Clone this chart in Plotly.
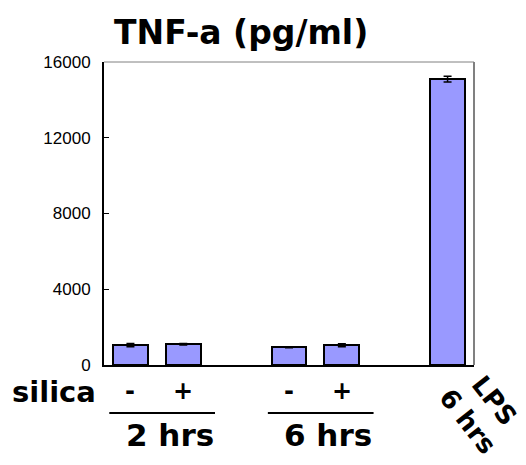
import plotly.graph_objects as go

# TNF-a secretion, mean with error
conditions = ["2 hrs -", "2 hrs +", "6 hrs -", "6 hrs +", "LPS 6 hrs"]
slot = [0, 1, 3, 4, 6]          # bar slots on the x axis (gaps at 2 and 5)
tnf_pg_ml = [1050, 1100, 940, 1040, 15100]
tnf_err = [90, 40, 30, 80, 150]
silica_marks = ["-", "+", "-", "+"]
group_labels = ["2 hrs", "6 hrs"]
y_ticks = [0, 4000, 8000, 12000, 16000]

W, H = 526, 465
M_L, M_R, M_T, M_B = 104, 52, 62, 100
PLOT_H = H - M_T - M_B

HAND = "DejaVu Sans"
fig = go.Figure()
fig.add_trace(go.Bar(
    x=slot, y=tnf_pg_ml, width=0.66,
    marker=dict(color="#9999FF", line=dict(color="black", width=2)),
    error_y=dict(type="data", array=tnf_err, visible=True,
                 color="black", thickness=1.5, width=4),
    hovertext=conditions,
))

fig.update_layout(
    width=W, height=H,
    margin=dict(l=M_L, r=M_R, t=M_T, b=M_B, pad=0),
    paper_bgcolor="white", plot_bgcolor="white",
    showlegend=False,
    bargap=0,
    xaxis=dict(range=[-0.5, 6.5], showticklabels=False, ticks="",
               showgrid=False, zeroline=False,
               showline=True, linecolor="black", linewidth=2),
    yaxis=dict(range=[0, 16000], tickvals=y_ticks,
               ticktext=[str(v) for v in y_ticks],
               ticks="inside", ticklen=5, tickcolor="black", tickwidth=1,
               showgrid=False, zeroline=False,
               showline=True, linecolor="black", linewidth=2,
               ticklabelstandoff=8,
               tickfont=dict(family="Liberation Sans", size=17, color="black")),
)

# top and right frame edges in gray
fig.add_shape(type="line", xref="paper", yref="paper", x0=0, x1=1, y0=1, y1=1,
              line=dict(color="#808080", width=1))
fig.add_shape(type="line", xref="paper", yref="paper", x0=1, x1=1, y0=0, y1=1,
              line=dict(color="#808080", width=2))

# title
fig.add_annotation(text="<b>TNF-a (pg/ml)</b>", xref="paper", yref="paper",
                   x=0.37, y=1, yshift=30, xanchor="center", yanchor="middle",
                   showarrow=False, font=dict(family=HAND, size=33, color="black"))

# silica row
fig.add_annotation(text="<b>silica</b>", xref="paper", yref="paper",
                   x=-0.135, y=0, yshift=-27, xanchor="center", yanchor="middle",
                   showarrow=False, font=dict(family=HAND, size=29, color="black"))
for s, m in zip(slot[:4], silica_marks):
    fig.add_annotation(text="<b>%s</b>" % m, xref="x", yref="paper",
                       x=s, y=0, yshift=-26, xanchor="center", yanchor="middle",
                       showarrow=False, font=dict(family=HAND, size=24, color="black"))

# time groups with underline bars
line_y = -(413 - (H - M_B)) / PLOT_H
for (a, b), lab in zip([(slot[0], slot[1]), (slot[2], slot[3])], group_labels):
    fig.add_shape(type="line", xref="x", yref="paper",
                  x0=a - 0.4, x1=b + 0.6, y0=line_y, y1=line_y,
                  line=dict(color="black", width=2))
    fig.add_annotation(text="<b>%s</b>" % lab, xref="x", yref="paper",
                       x=(a + b) / 2 + 0.24, y=0, yshift=-70,
                       xanchor="center", yanchor="middle", showarrow=False,
                       font=dict(family=HAND, size=31, color="black"))

# LPS label, rotated
fig.add_annotation(text="<b>LPS<br>6 hrs</b>", xref="paper", yref="paper",
                   x=(481 - M_L) / (W - M_L - M_R), y=0, yshift=-46,
                   xanchor="center", yanchor="middle", textangle=52,
                   showarrow=False, font=dict(family=HAND, size=26, color="black"))

fig.write_html("out.html")
